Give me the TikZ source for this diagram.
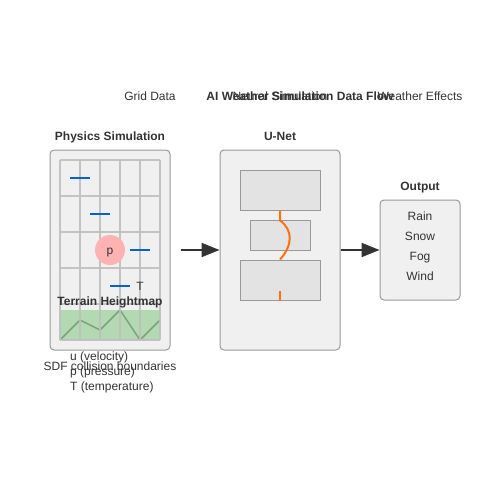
\documentclass[tikz,border=0pt]{standalone}
\usepackage{fontspec}
\setmainfont{Liberation Sans}
\usepackage{xcolor}
\usetikzlibrary{arrows.meta}
\definecolor{ink}{HTML}{333333}
\definecolor{edge}{HTML}{999999}
\definecolor{velblue}{HTML}{0066CC}
\definecolor{skiporange}{HTML}{FF7010}
\definecolor{terrainfill}{HTML}{B3D9B3}
\definecolor{terrainline}{HTML}{7F9F7F}
\tikzset{
    panel/.style={draw=edge, fill=black!6, rounded corners=4pt, line width=1pt, inner sep=0pt},
    layer/.style={draw=edge, fill=black!11, line width=1pt, inner sep=0pt},
    heading/.style={font=\bfseries\fontsize{12}{14}\selectfont, text=ink, inner sep=0pt, text height=11pt, text depth=2.5pt},
    plain/.style={font=\fontsize{12}{14}\selectfont, text=ink, inner sep=0pt, text height=11pt, text depth=2.5pt},
    flow/.style={-{Triangle[length=18pt, width=14pt]}, line width=2pt, draw=ink},
    vec/.style={draw=velblue, line width=2pt}
}

\begin{document}
\begin{tikzpicture}[x=1pt, y=-1pt]
    \useasboundingbox (0,0) rectangle (500,500);
    % Titles
    \node[plain] (griddata) at (150,96) {Grid Data};
    \node[plain] (neural) at (280,96) {Neural Simulation};
    \node[heading] (title) at (300,96) {AI Weather Simulation Data Flow};
    \node[plain] (effects) at (420,96) {Weather Effects};

    % Physics panel
    \node[heading] (physlabel) at (110,136) {Physics Simulation};
    \node[panel, minimum width=120pt, minimum height=200pt] (phys) at (110,250) {};
    % Terrain
    \fill[terrainfill] (60,310) rectangle (160,340);
    \draw[terrainline, line width=1.5pt] (60,340) -- (80,320) -- (100,330) -- (120,310) -- (140,340) -- (160,320);
    % Grid
    \foreach \x in {60,80,...,160}
        \draw[black!25, line width=1.5pt, opacity=0.9] (\x,160) -- (\x,340);
    \foreach \y in {160,196,...,340}
        \draw[black!25, line width=1.5pt, opacity=0.9] (60,\y) -- (160,\y);
    % Vectors
    \draw[vec] (70,178) -- (90,178);
    \draw[vec] (90,214) -- (110,214);
    \draw[vec] (130,250) -- (150,250);
    \draw[vec] (110,286) -- (130,286);
    \node[circle, fill=red!30, minimum size=30pt, inner sep=0pt] (pnode) at (110,250) {};
    \node[plain] (plabel) at (110,250) {p};
    \node[plain] (tlabel) at (140,286) {T};
    \node[heading] (terrain) at (110,301) {Terrain Heightmap};
    % Legend
    \node[plain, anchor=west] (leg1) at (70,356) {u (velocity)};
    \node[plain, anchor=west] (leg2) at (70,371) {p (pressure)};
    \node[plain, anchor=west] (leg3) at (70,386) {T (temperature)};
    \node[plain] (sdf) at (110,366) {SDF collision boundaries};

    % U-Net panel
    \node[heading] (unetlabel) at (280,136) {U-Net};
    \node[panel, minimum width=120pt, minimum height=200pt] (unet) at (280,250) {};
    \node[layer, minimum width=80pt, minimum height=40pt] (enc) at (280,190) {};
    \node[layer, minimum width=60pt, minimum height=30pt] (mid) at (280,235) {};
    \node[layer, minimum width=80pt, minimum height=40pt] (dec) at (280,280) {};
    \draw[skiporange, line width=2pt] (enc.south) -- ++(0,10) .. controls (293,230) and (293,245) .. (dec.north);
    \draw[skiporange, line width=2pt] (dec.south) -- ++(0,-10);

    % Output panel
    \node[heading] (outlabel) at (420,186) {Output};
    \node[panel, minimum width=80pt, minimum height=100pt] (out) at (420,250) {};
    \node[plain] (rain) at (420,216) {Rain};
    \node[plain] (snow) at (420,236) {Snow};
    \node[plain] (fog) at (420,256) {Fog};
    \node[plain] (wind) at (420,276) {Wind};

    % Flow arrows
    \draw[flow, shorten <=10pt] (phys.east) -- (unet.west);
    \draw[flow] (unet.east) -- (out.west);
\end{tikzpicture}
\end{document}
